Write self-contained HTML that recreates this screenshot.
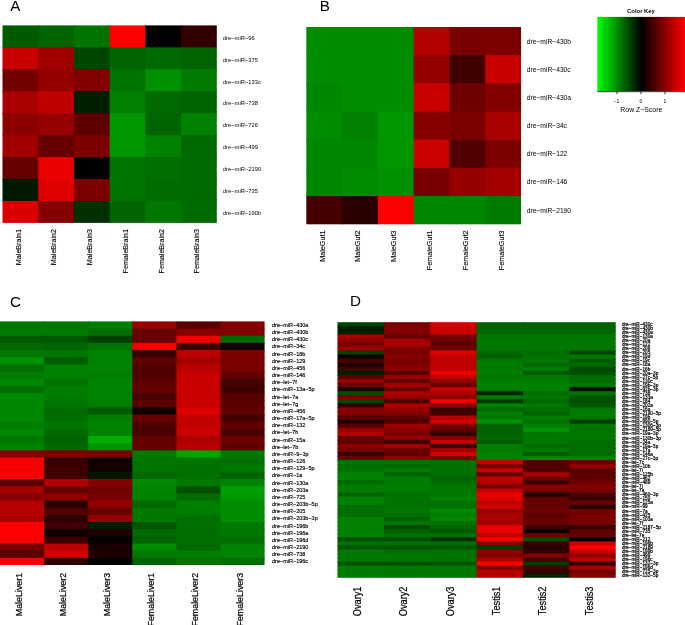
<!DOCTYPE html>
<html><head><meta charset="utf-8"><title>Heatmaps</title>
<style>
html,body{margin:0;padding:0;background:#fff;}
body{width:685px;height:625px;overflow:hidden;}
svg{display:block;}
svg text{font-family:"Liberation Sans",sans-serif;fill:#000;}
</style></head><body>
<svg width="685" height="625" viewBox="0 0 685 625">
<defs><linearGradient id="key" x1="0" y1="0" x2="1" y2="0"><stop offset="0" stop-color="#00ff00"/><stop offset="0.5" stop-color="#000000"/><stop offset="1" stop-color="#ff0000"/></linearGradient></defs>
<rect x="0" y="0" width="685" height="625" fill="#fff"/>
<rect x="2.50" y="25.40" width="36.72" height="22.94" fill="#005a00"/>
<rect x="38.22" y="25.40" width="36.72" height="22.94" fill="#006400"/>
<rect x="73.93" y="25.40" width="36.72" height="22.94" fill="#007300"/>
<rect x="109.65" y="25.40" width="36.72" height="22.94" fill="#ff0000"/>
<rect x="145.37" y="25.40" width="36.72" height="22.94" fill="#000000"/>
<rect x="181.08" y="25.40" width="35.72" height="22.94" fill="#320000"/>
<rect x="2.50" y="47.34" width="36.72" height="22.94" fill="#c80000"/>
<rect x="38.22" y="47.34" width="36.72" height="22.94" fill="#a00000"/>
<rect x="73.93" y="47.34" width="36.72" height="22.94" fill="#004600"/>
<rect x="109.65" y="47.34" width="36.72" height="22.94" fill="#006400"/>
<rect x="145.37" y="47.34" width="36.72" height="22.94" fill="#006900"/>
<rect x="181.08" y="47.34" width="35.72" height="22.94" fill="#006400"/>
<rect x="2.50" y="69.29" width="36.72" height="22.94" fill="#730000"/>
<rect x="38.22" y="69.29" width="36.72" height="22.94" fill="#960000"/>
<rect x="73.93" y="69.29" width="36.72" height="22.94" fill="#820000"/>
<rect x="109.65" y="69.29" width="36.72" height="22.94" fill="#007300"/>
<rect x="145.37" y="69.29" width="36.72" height="22.94" fill="#009100"/>
<rect x="181.08" y="69.29" width="35.72" height="22.94" fill="#007d00"/>
<rect x="2.50" y="91.23" width="36.72" height="22.94" fill="#aa0000"/>
<rect x="38.22" y="91.23" width="36.72" height="22.94" fill="#c00000"/>
<rect x="73.93" y="91.23" width="36.72" height="22.94" fill="#001e00"/>
<rect x="109.65" y="91.23" width="36.72" height="22.94" fill="#008200"/>
<rect x="145.37" y="91.23" width="36.72" height="22.94" fill="#006900"/>
<rect x="181.08" y="91.23" width="35.72" height="22.94" fill="#006400"/>
<rect x="2.50" y="113.18" width="36.72" height="22.94" fill="#8c0000"/>
<rect x="38.22" y="113.18" width="36.72" height="22.94" fill="#960000"/>
<rect x="73.93" y="113.18" width="36.72" height="22.94" fill="#5f0000"/>
<rect x="109.65" y="113.18" width="36.72" height="22.94" fill="#009600"/>
<rect x="145.37" y="113.18" width="36.72" height="22.94" fill="#006400"/>
<rect x="181.08" y="113.18" width="35.72" height="22.94" fill="#008200"/>
<rect x="2.50" y="135.12" width="36.72" height="22.94" fill="#a00000"/>
<rect x="38.22" y="135.12" width="36.72" height="22.94" fill="#640000"/>
<rect x="73.93" y="135.12" width="36.72" height="22.94" fill="#7d0000"/>
<rect x="109.65" y="135.12" width="36.72" height="22.94" fill="#009600"/>
<rect x="145.37" y="135.12" width="36.72" height="22.94" fill="#008200"/>
<rect x="181.08" y="135.12" width="35.72" height="22.94" fill="#006900"/>
<rect x="2.50" y="157.07" width="36.72" height="22.94" fill="#640000"/>
<rect x="38.22" y="157.07" width="36.72" height="22.94" fill="#eb0000"/>
<rect x="73.93" y="157.07" width="36.72" height="22.94" fill="#000000"/>
<rect x="109.65" y="157.07" width="36.72" height="22.94" fill="#007300"/>
<rect x="145.37" y="157.07" width="36.72" height="22.94" fill="#006e00"/>
<rect x="181.08" y="157.07" width="35.72" height="22.94" fill="#006900"/>
<rect x="2.50" y="179.01" width="36.72" height="22.94" fill="#001900"/>
<rect x="38.22" y="179.01" width="36.72" height="22.94" fill="#e10000"/>
<rect x="73.93" y="179.01" width="36.72" height="22.94" fill="#7d0000"/>
<rect x="109.65" y="179.01" width="36.72" height="22.94" fill="#007300"/>
<rect x="145.37" y="179.01" width="36.72" height="22.94" fill="#006c00"/>
<rect x="181.08" y="179.01" width="35.72" height="22.94" fill="#006900"/>
<rect x="2.50" y="200.96" width="36.72" height="21.94" fill="#da0000"/>
<rect x="38.22" y="200.96" width="36.72" height="21.94" fill="#840000"/>
<rect x="73.93" y="200.96" width="36.72" height="21.94" fill="#002f00"/>
<rect x="109.65" y="200.96" width="36.72" height="21.94" fill="#006400"/>
<rect x="145.37" y="200.96" width="36.72" height="21.94" fill="#007800"/>
<rect x="181.08" y="200.96" width="35.72" height="21.94" fill="#006c00"/>
<text transform="translate(222.80 39.66) scale(1.000 1)" font-size="5.80">dre−miR−96</text>
<text transform="translate(222.80 61.60) scale(1.000 1)" font-size="5.80">dre−miR−375</text>
<text transform="translate(222.80 83.55) scale(1.000 1)" font-size="5.80">dre−miR−133c</text>
<text transform="translate(222.80 105.49) scale(1.000 1)" font-size="5.80">dre−miR−738</text>
<text transform="translate(222.80 127.44) scale(1.000 1)" font-size="5.80">dre−miR−726</text>
<text transform="translate(222.80 149.38) scale(1.000 1)" font-size="5.80">dre−miR−499</text>
<text transform="translate(222.80 171.33) scale(1.000 1)" font-size="5.80">dre−miR−2190</text>
<text transform="translate(222.80 193.27) scale(1.000 1)" font-size="5.80">dre−miR−735</text>
<text transform="translate(222.80 215.22) scale(1.000 1)" font-size="5.80">dre−miR−190b</text>
<text transform="translate(20.76 229.00) rotate(-90) scale(1.000 1)" text-anchor="end" font-size="7.15" stroke="#000" stroke-width="0.12">MaleBrain1</text>
<text transform="translate(56.48 229.00) rotate(-90) scale(1.000 1)" text-anchor="end" font-size="7.15" stroke="#000" stroke-width="0.12">MaleBrain2</text>
<text transform="translate(92.19 229.00) rotate(-90) scale(1.000 1)" text-anchor="end" font-size="7.15" stroke="#000" stroke-width="0.12">MaleBrain3</text>
<text transform="translate(127.91 229.00) rotate(-90) scale(1.000 1)" text-anchor="end" font-size="7.15" stroke="#000" stroke-width="0.12">FemaleBrain1</text>
<text transform="translate(163.63 229.00) rotate(-90) scale(1.000 1)" text-anchor="end" font-size="7.15" stroke="#000" stroke-width="0.12">FemaleBrain2</text>
<text transform="translate(199.34 229.00) rotate(-90) scale(1.000 1)" text-anchor="end" font-size="7.15" stroke="#000" stroke-width="0.12">FemaleBrain3</text>
<rect x="306.30" y="27.00" width="36.78" height="29.19" fill="#008c00"/>
<rect x="342.08" y="27.00" width="36.78" height="29.19" fill="#008c00"/>
<rect x="377.87" y="27.00" width="36.78" height="29.19" fill="#008c00"/>
<rect x="413.65" y="27.00" width="36.78" height="29.19" fill="#b40000"/>
<rect x="449.43" y="27.00" width="36.78" height="29.19" fill="#780000"/>
<rect x="485.22" y="27.00" width="35.78" height="29.19" fill="#7d0000"/>
<rect x="306.30" y="55.19" width="36.78" height="29.19" fill="#008c00"/>
<rect x="342.08" y="55.19" width="36.78" height="29.19" fill="#008c00"/>
<rect x="377.87" y="55.19" width="36.78" height="29.19" fill="#008c00"/>
<rect x="413.65" y="55.19" width="36.78" height="29.19" fill="#960000"/>
<rect x="449.43" y="55.19" width="36.78" height="29.19" fill="#410000"/>
<rect x="485.22" y="55.19" width="35.78" height="29.19" fill="#c80000"/>
<rect x="306.30" y="83.37" width="36.78" height="29.19" fill="#008700"/>
<rect x="342.08" y="83.37" width="36.78" height="29.19" fill="#008e00"/>
<rect x="377.87" y="83.37" width="36.78" height="29.19" fill="#008e00"/>
<rect x="413.65" y="83.37" width="36.78" height="29.19" fill="#c80000"/>
<rect x="449.43" y="83.37" width="36.78" height="29.19" fill="#6e0000"/>
<rect x="485.22" y="83.37" width="35.78" height="29.19" fill="#820000"/>
<rect x="306.30" y="111.56" width="36.78" height="29.19" fill="#008c00"/>
<rect x="342.08" y="111.56" width="36.78" height="29.19" fill="#008200"/>
<rect x="377.87" y="111.56" width="36.78" height="29.19" fill="#009600"/>
<rect x="413.65" y="111.56" width="36.78" height="29.19" fill="#870000"/>
<rect x="449.43" y="111.56" width="36.78" height="29.19" fill="#7d0000"/>
<rect x="485.22" y="111.56" width="35.78" height="29.19" fill="#aa0000"/>
<rect x="306.30" y="139.74" width="36.78" height="29.19" fill="#008700"/>
<rect x="342.08" y="139.74" width="36.78" height="29.19" fill="#008700"/>
<rect x="377.87" y="139.74" width="36.78" height="29.19" fill="#009600"/>
<rect x="413.65" y="139.74" width="36.78" height="29.19" fill="#cd0000"/>
<rect x="449.43" y="139.74" width="36.78" height="29.19" fill="#500000"/>
<rect x="485.22" y="139.74" width="35.78" height="29.19" fill="#7d0000"/>
<rect x="306.30" y="167.93" width="36.78" height="29.19" fill="#008700"/>
<rect x="342.08" y="167.93" width="36.78" height="29.19" fill="#008c00"/>
<rect x="377.87" y="167.93" width="36.78" height="29.19" fill="#009100"/>
<rect x="413.65" y="167.93" width="36.78" height="29.19" fill="#780000"/>
<rect x="449.43" y="167.93" width="36.78" height="29.19" fill="#960000"/>
<rect x="485.22" y="167.93" width="35.78" height="29.19" fill="#a50000"/>
<rect x="306.30" y="196.11" width="36.78" height="28.19" fill="#460000"/>
<rect x="342.08" y="196.11" width="36.78" height="28.19" fill="#2d0000"/>
<rect x="377.87" y="196.11" width="36.78" height="28.19" fill="#ff0000"/>
<rect x="413.65" y="196.11" width="36.78" height="28.19" fill="#008700"/>
<rect x="449.43" y="196.11" width="36.78" height="28.19" fill="#008700"/>
<rect x="485.22" y="196.11" width="35.78" height="28.19" fill="#007d00"/>
<text transform="translate(526.80 43.50) scale(1.000 1)" font-size="6.70">dre−miR−430b</text>
<text transform="translate(526.80 71.69) scale(1.000 1)" font-size="6.70">dre−miR−430c</text>
<text transform="translate(526.80 99.88) scale(1.000 1)" font-size="6.70">dre−miR−430a</text>
<text transform="translate(526.80 128.06) scale(1.000 1)" font-size="6.70">dre−miR−34c</text>
<text transform="translate(526.80 156.25) scale(1.000 1)" font-size="6.70">dre−miR−122</text>
<text transform="translate(526.80 184.43) scale(1.000 1)" font-size="6.70">dre−miR−146</text>
<text transform="translate(526.80 212.62) scale(1.000 1)" font-size="6.70">dre−miR−2190</text>
<text transform="translate(324.69 230.60) rotate(-90) scale(1.000 1)" text-anchor="end" font-size="7.20" stroke="#000" stroke-width="0.12">MaleGut1</text>
<text transform="translate(360.48 230.60) rotate(-90) scale(1.000 1)" text-anchor="end" font-size="7.20" stroke="#000" stroke-width="0.12">MaleGut2</text>
<text transform="translate(396.26 230.60) rotate(-90) scale(1.000 1)" text-anchor="end" font-size="7.20" stroke="#000" stroke-width="0.12">MaleGut3</text>
<text transform="translate(432.04 230.60) rotate(-90) scale(1.000 1)" text-anchor="end" font-size="7.20" stroke="#000" stroke-width="0.12">FemaleGut1</text>
<text transform="translate(467.82 230.60) rotate(-90) scale(1.000 1)" text-anchor="end" font-size="7.20" stroke="#000" stroke-width="0.12">FemaleGut2</text>
<text transform="translate(503.61 230.60) rotate(-90) scale(1.000 1)" text-anchor="end" font-size="7.20" stroke="#000" stroke-width="0.12">FemaleGut3</text>
<rect x="0.00" y="321.40" width="45.10" height="8.16" fill="#007800"/>
<rect x="44.10" y="321.40" width="45.10" height="8.16" fill="#007800"/>
<rect x="88.20" y="321.40" width="45.10" height="8.16" fill="#007e00"/>
<rect x="132.30" y="321.40" width="45.10" height="8.16" fill="#960000"/>
<rect x="176.40" y="321.40" width="45.10" height="8.16" fill="#580000"/>
<rect x="220.50" y="321.40" width="44.10" height="8.16" fill="#820000"/>
<rect x="0.00" y="328.56" width="45.10" height="8.16" fill="#007d00"/>
<rect x="44.10" y="328.56" width="45.10" height="8.16" fill="#007d00"/>
<rect x="88.20" y="328.56" width="45.10" height="8.16" fill="#006e00"/>
<rect x="132.30" y="328.56" width="45.10" height="8.16" fill="#690000"/>
<rect x="176.40" y="328.56" width="45.10" height="8.16" fill="#870000"/>
<rect x="220.50" y="328.56" width="44.10" height="8.16" fill="#820000"/>
<rect x="0.00" y="335.73" width="45.10" height="8.16" fill="#005800"/>
<rect x="44.10" y="335.73" width="45.10" height="8.16" fill="#005800"/>
<rect x="88.20" y="335.73" width="45.10" height="8.16" fill="#004100"/>
<rect x="132.30" y="335.73" width="45.10" height="8.16" fill="#690000"/>
<rect x="176.40" y="335.73" width="45.10" height="8.16" fill="#f00000"/>
<rect x="220.50" y="335.73" width="44.10" height="8.16" fill="#006900"/>
<rect x="0.00" y="342.89" width="45.10" height="8.16" fill="#006900"/>
<rect x="44.10" y="342.89" width="45.10" height="8.16" fill="#006400"/>
<rect x="88.20" y="342.89" width="45.10" height="8.16" fill="#007400"/>
<rect x="132.30" y="342.89" width="45.10" height="8.16" fill="#f50000"/>
<rect x="176.40" y="342.89" width="45.10" height="8.16" fill="#410000"/>
<rect x="220.50" y="342.89" width="44.10" height="8.16" fill="#140000"/>
<rect x="0.00" y="350.06" width="45.10" height="8.16" fill="#007800"/>
<rect x="44.10" y="350.06" width="45.10" height="8.16" fill="#007800"/>
<rect x="88.20" y="350.06" width="45.10" height="8.16" fill="#008300"/>
<rect x="132.30" y="350.06" width="45.10" height="8.16" fill="#370000"/>
<rect x="176.40" y="350.06" width="45.10" height="8.16" fill="#bc0000"/>
<rect x="220.50" y="350.06" width="44.10" height="8.16" fill="#7d0000"/>
<rect x="0.00" y="357.22" width="45.10" height="8.16" fill="#009100"/>
<rect x="44.10" y="357.22" width="45.10" height="8.16" fill="#005c00"/>
<rect x="88.20" y="357.22" width="45.10" height="8.16" fill="#008300"/>
<rect x="132.30" y="357.22" width="45.10" height="8.16" fill="#5f0000"/>
<rect x="176.40" y="357.22" width="45.10" height="8.16" fill="#a50000"/>
<rect x="220.50" y="357.22" width="44.10" height="8.16" fill="#7d0000"/>
<rect x="0.00" y="364.39" width="45.10" height="8.16" fill="#006e00"/>
<rect x="44.10" y="364.39" width="45.10" height="8.16" fill="#008200"/>
<rect x="88.20" y="364.39" width="45.10" height="8.16" fill="#008300"/>
<rect x="132.30" y="364.39" width="45.10" height="8.16" fill="#500000"/>
<rect x="176.40" y="364.39" width="45.10" height="8.16" fill="#b90000"/>
<rect x="220.50" y="364.39" width="44.10" height="8.16" fill="#7d0000"/>
<rect x="0.00" y="371.55" width="45.10" height="8.16" fill="#007d00"/>
<rect x="44.10" y="371.55" width="45.10" height="8.16" fill="#008200"/>
<rect x="88.20" y="371.55" width="45.10" height="8.16" fill="#007e00"/>
<rect x="132.30" y="371.55" width="45.10" height="8.16" fill="#520000"/>
<rect x="176.40" y="371.55" width="45.10" height="8.16" fill="#c80000"/>
<rect x="220.50" y="371.55" width="44.10" height="8.16" fill="#620000"/>
<rect x="0.00" y="378.72" width="45.10" height="8.16" fill="#008700"/>
<rect x="44.10" y="378.72" width="45.10" height="8.16" fill="#007300"/>
<rect x="88.20" y="378.72" width="45.10" height="8.16" fill="#008300"/>
<rect x="132.30" y="378.72" width="45.10" height="8.16" fill="#5c0000"/>
<rect x="176.40" y="378.72" width="45.10" height="8.16" fill="#c80000"/>
<rect x="220.50" y="378.72" width="44.10" height="8.16" fill="#440000"/>
<rect x="0.00" y="385.88" width="45.10" height="8.16" fill="#006e00"/>
<rect x="44.10" y="385.88" width="45.10" height="8.16" fill="#007d00"/>
<rect x="88.20" y="385.88" width="45.10" height="8.16" fill="#008300"/>
<rect x="132.30" y="385.88" width="45.10" height="8.16" fill="#640000"/>
<rect x="176.40" y="385.88" width="45.10" height="8.16" fill="#cb0000"/>
<rect x="220.50" y="385.88" width="44.10" height="8.16" fill="#3a0000"/>
<rect x="0.00" y="393.05" width="45.10" height="8.16" fill="#008700"/>
<rect x="44.10" y="393.05" width="45.10" height="8.16" fill="#007d00"/>
<rect x="88.20" y="393.05" width="45.10" height="8.16" fill="#008300"/>
<rect x="132.30" y="393.05" width="45.10" height="8.16" fill="#4b0000"/>
<rect x="176.40" y="393.05" width="45.10" height="8.16" fill="#c80000"/>
<rect x="220.50" y="393.05" width="44.10" height="8.16" fill="#580000"/>
<rect x="0.00" y="400.21" width="45.10" height="8.16" fill="#008700"/>
<rect x="44.10" y="400.21" width="45.10" height="8.16" fill="#007400"/>
<rect x="88.20" y="400.21" width="45.10" height="8.16" fill="#007e00"/>
<rect x="132.30" y="400.21" width="45.10" height="8.16" fill="#5a0000"/>
<rect x="176.40" y="400.21" width="45.10" height="8.16" fill="#c80000"/>
<rect x="220.50" y="400.21" width="44.10" height="8.16" fill="#580000"/>
<rect x="0.00" y="407.38" width="45.10" height="8.16" fill="#008700"/>
<rect x="44.10" y="407.38" width="45.10" height="8.16" fill="#006a00"/>
<rect x="88.20" y="407.38" width="45.10" height="8.16" fill="#005a00"/>
<rect x="132.30" y="407.38" width="45.10" height="8.16" fill="#140000"/>
<rect x="176.40" y="407.38" width="45.10" height="8.16" fill="#dc0000"/>
<rect x="220.50" y="407.38" width="44.10" height="8.16" fill="#600000"/>
<rect x="0.00" y="414.54" width="45.10" height="8.16" fill="#008700"/>
<rect x="44.10" y="414.54" width="45.10" height="8.16" fill="#006e00"/>
<rect x="88.20" y="414.54" width="45.10" height="8.16" fill="#007e00"/>
<rect x="132.30" y="414.54" width="45.10" height="8.16" fill="#690000"/>
<rect x="176.40" y="414.54" width="45.10" height="8.16" fill="#c40000"/>
<rect x="220.50" y="414.54" width="44.10" height="8.16" fill="#440000"/>
<rect x="0.00" y="421.71" width="45.10" height="8.16" fill="#007d00"/>
<rect x="44.10" y="421.71" width="45.10" height="8.16" fill="#007800"/>
<rect x="88.20" y="421.71" width="45.10" height="8.16" fill="#008300"/>
<rect x="132.30" y="421.71" width="45.10" height="8.16" fill="#4e0000"/>
<rect x="176.40" y="421.71" width="45.10" height="8.16" fill="#c30000"/>
<rect x="220.50" y="421.71" width="44.10" height="8.16" fill="#640000"/>
<rect x="0.00" y="428.87" width="45.10" height="8.16" fill="#008700"/>
<rect x="44.10" y="428.87" width="45.10" height="8.16" fill="#006900"/>
<rect x="88.20" y="428.87" width="45.10" height="8.16" fill="#008300"/>
<rect x="132.30" y="428.87" width="45.10" height="8.16" fill="#4c0000"/>
<rect x="176.40" y="428.87" width="45.10" height="8.16" fill="#cb0000"/>
<rect x="220.50" y="428.87" width="44.10" height="8.16" fill="#480000"/>
<rect x="0.00" y="436.04" width="45.10" height="8.16" fill="#007800"/>
<rect x="44.10" y="436.04" width="45.10" height="8.16" fill="#006400"/>
<rect x="88.20" y="436.04" width="45.10" height="8.16" fill="#00ad00"/>
<rect x="132.30" y="436.04" width="45.10" height="8.16" fill="#640000"/>
<rect x="176.40" y="436.04" width="45.10" height="8.16" fill="#ac0000"/>
<rect x="220.50" y="436.04" width="44.10" height="8.16" fill="#6e0000"/>
<rect x="0.00" y="443.20" width="45.10" height="8.16" fill="#008200"/>
<rect x="44.10" y="443.20" width="45.10" height="8.16" fill="#006900"/>
<rect x="88.20" y="443.20" width="45.10" height="8.16" fill="#009300"/>
<rect x="132.30" y="443.20" width="45.10" height="8.16" fill="#640000"/>
<rect x="176.40" y="443.20" width="45.10" height="8.16" fill="#ba0000"/>
<rect x="220.50" y="443.20" width="44.10" height="8.16" fill="#5c0000"/>
<rect x="0.00" y="450.36" width="45.10" height="8.16" fill="#820000"/>
<rect x="44.10" y="450.36" width="45.10" height="8.16" fill="#7d0000"/>
<rect x="88.20" y="450.36" width="45.10" height="8.16" fill="#7a0000"/>
<rect x="132.30" y="450.36" width="45.10" height="8.16" fill="#007900"/>
<rect x="176.40" y="450.36" width="45.10" height="8.16" fill="#00a300"/>
<rect x="220.50" y="450.36" width="44.10" height="8.16" fill="#007900"/>
<rect x="0.00" y="457.53" width="45.10" height="8.16" fill="#fa0000"/>
<rect x="44.10" y="457.53" width="45.10" height="8.16" fill="#370000"/>
<rect x="88.20" y="457.53" width="45.10" height="8.16" fill="#100000"/>
<rect x="132.30" y="457.53" width="45.10" height="8.16" fill="#007400"/>
<rect x="176.40" y="457.53" width="45.10" height="8.16" fill="#007400"/>
<rect x="220.50" y="457.53" width="44.10" height="8.16" fill="#006e00"/>
<rect x="0.00" y="464.69" width="45.10" height="8.16" fill="#f50000"/>
<rect x="44.10" y="464.69" width="45.10" height="8.16" fill="#3c0000"/>
<rect x="88.20" y="464.69" width="45.10" height="8.16" fill="#140000"/>
<rect x="132.30" y="464.69" width="45.10" height="8.16" fill="#007400"/>
<rect x="176.40" y="464.69" width="45.10" height="8.16" fill="#007100"/>
<rect x="220.50" y="464.69" width="44.10" height="8.16" fill="#007900"/>
<rect x="0.00" y="471.86" width="45.10" height="8.16" fill="#fa0000"/>
<rect x="44.10" y="471.86" width="45.10" height="8.16" fill="#3c0000"/>
<rect x="88.20" y="471.86" width="45.10" height="8.16" fill="#001400"/>
<rect x="132.30" y="471.86" width="45.10" height="8.16" fill="#006900"/>
<rect x="176.40" y="471.86" width="45.10" height="8.16" fill="#007100"/>
<rect x="220.50" y="471.86" width="44.10" height="8.16" fill="#006400"/>
<rect x="0.00" y="479.02" width="45.10" height="8.16" fill="#5a0000"/>
<rect x="44.10" y="479.02" width="45.10" height="8.16" fill="#b20000"/>
<rect x="88.20" y="479.02" width="45.10" height="8.16" fill="#870000"/>
<rect x="132.30" y="479.02" width="45.10" height="8.16" fill="#008800"/>
<rect x="176.40" y="479.02" width="45.10" height="8.16" fill="#007900"/>
<rect x="220.50" y="479.02" width="44.10" height="8.16" fill="#008300"/>
<rect x="0.00" y="486.19" width="45.10" height="8.16" fill="#a50000"/>
<rect x="44.10" y="486.19" width="45.10" height="8.16" fill="#640000"/>
<rect x="88.20" y="486.19" width="45.10" height="8.16" fill="#730000"/>
<rect x="132.30" y="486.19" width="45.10" height="8.16" fill="#008300"/>
<rect x="176.40" y="486.19" width="45.10" height="8.16" fill="#005000"/>
<rect x="220.50" y="486.19" width="44.10" height="8.16" fill="#009e00"/>
<rect x="0.00" y="493.35" width="45.10" height="8.16" fill="#870000"/>
<rect x="44.10" y="493.35" width="45.10" height="8.16" fill="#910000"/>
<rect x="88.20" y="493.35" width="45.10" height="8.16" fill="#780000"/>
<rect x="132.30" y="493.35" width="45.10" height="8.16" fill="#008300"/>
<rect x="176.40" y="493.35" width="45.10" height="8.16" fill="#006900"/>
<rect x="220.50" y="493.35" width="44.10" height="8.16" fill="#009800"/>
<rect x="0.00" y="500.52" width="45.10" height="8.16" fill="#b90000"/>
<rect x="44.10" y="500.52" width="45.10" height="8.16" fill="#280000"/>
<rect x="88.20" y="500.52" width="45.10" height="8.16" fill="#940000"/>
<rect x="132.30" y="500.52" width="45.10" height="8.16" fill="#006900"/>
<rect x="176.40" y="500.52" width="45.10" height="8.16" fill="#007e00"/>
<rect x="220.50" y="500.52" width="44.10" height="8.16" fill="#008e00"/>
<rect x="0.00" y="507.68" width="45.10" height="8.16" fill="#b40000"/>
<rect x="44.10" y="507.68" width="45.10" height="8.16" fill="#550000"/>
<rect x="88.20" y="507.68" width="45.10" height="8.16" fill="#690000"/>
<rect x="132.30" y="507.68" width="45.10" height="8.16" fill="#007900"/>
<rect x="176.40" y="507.68" width="45.10" height="8.16" fill="#007e00"/>
<rect x="220.50" y="507.68" width="44.10" height="8.16" fill="#008e00"/>
<rect x="0.00" y="514.85" width="45.10" height="8.16" fill="#ac0000"/>
<rect x="44.10" y="514.85" width="45.10" height="8.16" fill="#2f0000"/>
<rect x="88.20" y="514.85" width="45.10" height="8.16" fill="#960000"/>
<rect x="132.30" y="514.85" width="45.10" height="8.16" fill="#007900"/>
<rect x="176.40" y="514.85" width="45.10" height="8.16" fill="#007000"/>
<rect x="220.50" y="514.85" width="44.10" height="8.16" fill="#008e00"/>
<rect x="0.00" y="522.01" width="45.10" height="8.16" fill="#ff0000"/>
<rect x="44.10" y="522.01" width="45.10" height="8.16" fill="#3e0000"/>
<rect x="88.20" y="522.01" width="45.10" height="8.16" fill="#001e00"/>
<rect x="132.30" y="522.01" width="45.10" height="8.16" fill="#005500"/>
<rect x="176.40" y="522.01" width="45.10" height="8.16" fill="#006e00"/>
<rect x="220.50" y="522.01" width="44.10" height="8.16" fill="#007900"/>
<rect x="0.00" y="529.18" width="45.10" height="8.16" fill="#ff0000"/>
<rect x="44.10" y="529.18" width="45.10" height="8.16" fill="#100000"/>
<rect x="88.20" y="529.18" width="45.10" height="8.16" fill="#1e0000"/>
<rect x="132.30" y="529.18" width="45.10" height="8.16" fill="#006900"/>
<rect x="176.40" y="529.18" width="45.10" height="8.16" fill="#006e00"/>
<rect x="220.50" y="529.18" width="44.10" height="8.16" fill="#007900"/>
<rect x="0.00" y="536.34" width="45.10" height="8.16" fill="#fa0000"/>
<rect x="44.10" y="536.34" width="45.10" height="8.16" fill="#390000"/>
<rect x="88.20" y="536.34" width="45.10" height="8.16" fill="#050000"/>
<rect x="132.30" y="536.34" width="45.10" height="8.16" fill="#006400"/>
<rect x="176.40" y="536.34" width="45.10" height="8.16" fill="#006e00"/>
<rect x="220.50" y="536.34" width="44.10" height="8.16" fill="#006e00"/>
<rect x="0.00" y="543.51" width="45.10" height="8.16" fill="#780000"/>
<rect x="44.10" y="543.51" width="45.10" height="8.16" fill="#be0000"/>
<rect x="88.20" y="543.51" width="45.10" height="8.16" fill="#190000"/>
<rect x="132.30" y="543.51" width="45.10" height="8.16" fill="#008e00"/>
<rect x="176.40" y="543.51" width="45.10" height="8.16" fill="#006900"/>
<rect x="220.50" y="543.51" width="44.10" height="8.16" fill="#008300"/>
<rect x="0.00" y="550.67" width="45.10" height="8.16" fill="#5a0000"/>
<rect x="44.10" y="550.67" width="45.10" height="8.16" fill="#d20000"/>
<rect x="88.20" y="550.67" width="45.10" height="8.16" fill="#1e0000"/>
<rect x="132.30" y="550.67" width="45.10" height="8.16" fill="#007900"/>
<rect x="176.40" y="550.67" width="45.10" height="8.16" fill="#007e00"/>
<rect x="220.50" y="550.67" width="44.10" height="8.16" fill="#008300"/>
<rect x="0.00" y="557.84" width="45.10" height="7.16" fill="#f50000"/>
<rect x="44.10" y="557.84" width="45.10" height="7.16" fill="#2a0000"/>
<rect x="88.20" y="557.84" width="45.10" height="7.16" fill="#000000"/>
<rect x="132.30" y="557.84" width="45.10" height="7.16" fill="#006400"/>
<rect x="176.40" y="557.84" width="45.10" height="7.16" fill="#007400"/>
<rect x="220.50" y="557.84" width="44.10" height="7.16" fill="#006e00"/>
<text transform="translate(272.00 326.96) scale(1.000 1)" font-size="5.50" stroke="#000" stroke-width="0.15">dre−miR−430a</text>
<text transform="translate(272.00 334.13) scale(1.000 1)" font-size="5.50" stroke="#000" stroke-width="0.15">dre−miR−430b</text>
<text transform="translate(272.00 341.29) scale(1.000 1)" font-size="5.50" stroke="#000" stroke-width="0.15">dre−miR−430c</text>
<text transform="translate(272.00 348.46) scale(1.000 1)" font-size="5.50" stroke="#000" stroke-width="0.15">dre−miR−34c</text>
<text transform="translate(272.00 355.62) scale(1.000 1)" font-size="5.50" stroke="#000" stroke-width="0.15">dre−miR−18b</text>
<text transform="translate(272.00 362.79) scale(1.000 1)" font-size="5.50" stroke="#000" stroke-width="0.15">dre−miR−129</text>
<text transform="translate(272.00 369.95) scale(1.000 1)" font-size="5.50" stroke="#000" stroke-width="0.15">dre−miR−456</text>
<text transform="translate(272.00 377.12) scale(1.000 1)" font-size="5.50" stroke="#000" stroke-width="0.15">dre−miR−146</text>
<text transform="translate(272.00 384.28) scale(1.000 1)" font-size="5.50" stroke="#000" stroke-width="0.15">dre−let−7f</text>
<text transform="translate(272.00 391.44) scale(1.000 1)" font-size="5.50" stroke="#000" stroke-width="0.15">dre−miR−13a−5p</text>
<text transform="translate(272.00 398.61) scale(1.000 1)" font-size="5.50" stroke="#000" stroke-width="0.15">dre−let−7a</text>
<text transform="translate(272.00 405.77) scale(1.000 1)" font-size="5.50" stroke="#000" stroke-width="0.15">dre−let−7g</text>
<text transform="translate(272.00 412.94) scale(1.000 1)" font-size="5.50" stroke="#000" stroke-width="0.15">dre−miR−456</text>
<text transform="translate(272.00 420.10) scale(1.000 1)" font-size="5.50" stroke="#000" stroke-width="0.15">dre−miR−17a−5p</text>
<text transform="translate(272.00 427.27) scale(1.000 1)" font-size="5.50" stroke="#000" stroke-width="0.15">dre−miR−132</text>
<text transform="translate(272.00 434.43) scale(1.000 1)" font-size="5.50" stroke="#000" stroke-width="0.15">dre−let−7h</text>
<text transform="translate(272.00 441.60) scale(1.000 1)" font-size="5.50" stroke="#000" stroke-width="0.15">dre−miR−15a</text>
<text transform="translate(272.00 448.76) scale(1.000 1)" font-size="5.50" stroke="#000" stroke-width="0.15">dre−let−7b</text>
<text transform="translate(272.00 455.93) scale(1.000 1)" font-size="5.50" stroke="#000" stroke-width="0.15">dre−miR−9−3p</text>
<text transform="translate(272.00 463.09) scale(1.000 1)" font-size="5.50" stroke="#000" stroke-width="0.15">dre−miR−126</text>
<text transform="translate(272.00 470.26) scale(1.000 1)" font-size="5.50" stroke="#000" stroke-width="0.15">dre−miR−129−5p</text>
<text transform="translate(272.00 477.42) scale(1.000 1)" font-size="5.50" stroke="#000" stroke-width="0.15">dre−miR−1a</text>
<text transform="translate(272.00 484.59) scale(1.000 1)" font-size="5.50" stroke="#000" stroke-width="0.15">dre−miR−130a</text>
<text transform="translate(272.00 491.75) scale(1.000 1)" font-size="5.50" stroke="#000" stroke-width="0.15">dre−miR−203a</text>
<text transform="translate(272.00 498.92) scale(1.000 1)" font-size="5.50" stroke="#000" stroke-width="0.15">dre−miR−725</text>
<text transform="translate(272.00 506.08) scale(1.000 1)" font-size="5.50" stroke="#000" stroke-width="0.15">dre−miR−203b−5p</text>
<text transform="translate(272.00 513.24) scale(1.000 1)" font-size="5.50" stroke="#000" stroke-width="0.15">dre−miR−205</text>
<text transform="translate(272.00 520.41) scale(1.000 1)" font-size="5.50" stroke="#000" stroke-width="0.15">dre−miR−203b−3p</text>
<text transform="translate(272.00 527.57) scale(1.000 1)" font-size="5.50" stroke="#000" stroke-width="0.15">dre−miR−196b</text>
<text transform="translate(272.00 534.74) scale(1.000 1)" font-size="5.50" stroke="#000" stroke-width="0.15">dre−miR−196a</text>
<text transform="translate(272.00 541.90) scale(1.000 1)" font-size="5.50" stroke="#000" stroke-width="0.15">dre−miR−196d</text>
<text transform="translate(272.00 549.07) scale(1.000 1)" font-size="5.50" stroke="#000" stroke-width="0.15">dre−miR−2190</text>
<text transform="translate(272.00 556.23) scale(1.000 1)" font-size="5.50" stroke="#000" stroke-width="0.15">dre−miR−738</text>
<text transform="translate(272.00 563.40) scale(1.000 1)" font-size="5.50" stroke="#000" stroke-width="0.15">dre−miR−196c</text>
<text transform="translate(22.05 572.90) rotate(-90) scale(1.000 1)" text-anchor="end" font-size="8.85" stroke="#000" stroke-width="0.20">MaleLiver1</text>
<text transform="translate(66.15 572.90) rotate(-90) scale(1.000 1)" text-anchor="end" font-size="8.85" stroke="#000" stroke-width="0.20">MaleLiver2</text>
<text transform="translate(110.25 572.90) rotate(-90) scale(1.000 1)" text-anchor="end" font-size="8.85" stroke="#000" stroke-width="0.20">MaleLiver3</text>
<text transform="translate(154.35 572.90) rotate(-90) scale(1.000 1)" text-anchor="end" font-size="8.85" stroke="#000" stroke-width="0.20">FemaleLiver1</text>
<text transform="translate(198.45 572.90) rotate(-90) scale(1.000 1)" text-anchor="end" font-size="8.85" stroke="#000" stroke-width="0.20">FemaleLiver2</text>
<text transform="translate(242.55 572.90) rotate(-90) scale(1.000 1)" text-anchor="end" font-size="8.85" stroke="#000" stroke-width="0.20">FemaleLiver3</text>
<rect x="337.50" y="322.20" width="47.37" height="5.06" fill="#004600"/>
<rect x="383.87" y="322.20" width="47.37" height="5.06" fill="#780000"/>
<rect x="430.23" y="322.20" width="47.37" height="5.06" fill="#d20000"/>
<rect x="476.60" y="322.20" width="47.37" height="5.06" fill="#006300"/>
<rect x="522.97" y="322.20" width="47.37" height="5.06" fill="#006300"/>
<rect x="569.33" y="322.20" width="46.37" height="5.06" fill="#006300"/>
<rect x="337.50" y="326.26" width="47.37" height="5.06" fill="#001e00"/>
<rect x="383.87" y="326.26" width="47.37" height="5.06" fill="#820000"/>
<rect x="430.23" y="326.26" width="47.37" height="5.06" fill="#cd0000"/>
<rect x="476.60" y="326.26" width="47.37" height="5.06" fill="#006300"/>
<rect x="522.97" y="326.26" width="47.37" height="5.06" fill="#006300"/>
<rect x="569.33" y="326.26" width="46.37" height="5.06" fill="#006300"/>
<rect x="337.50" y="330.31" width="47.37" height="5.06" fill="#001e00"/>
<rect x="383.87" y="330.31" width="47.37" height="5.06" fill="#820000"/>
<rect x="430.23" y="330.31" width="47.37" height="5.06" fill="#c80000"/>
<rect x="476.60" y="330.31" width="47.37" height="5.06" fill="#006800"/>
<rect x="522.97" y="330.31" width="47.37" height="5.06" fill="#006800"/>
<rect x="569.33" y="330.31" width="46.37" height="5.06" fill="#006800"/>
<rect x="337.50" y="334.37" width="47.37" height="5.06" fill="#aa0000"/>
<rect x="383.87" y="334.37" width="47.37" height="5.06" fill="#640000"/>
<rect x="430.23" y="334.37" width="47.37" height="5.06" fill="#780000"/>
<rect x="476.60" y="334.37" width="47.37" height="5.06" fill="#007800"/>
<rect x="522.97" y="334.37" width="47.37" height="5.06" fill="#007800"/>
<rect x="569.33" y="334.37" width="46.37" height="5.06" fill="#007800"/>
<rect x="337.50" y="338.43" width="47.37" height="5.06" fill="#8c0000"/>
<rect x="383.87" y="338.43" width="47.37" height="5.06" fill="#a00000"/>
<rect x="430.23" y="338.43" width="47.37" height="5.06" fill="#640000"/>
<rect x="476.60" y="338.43" width="47.37" height="5.06" fill="#007800"/>
<rect x="522.97" y="338.43" width="47.37" height="5.06" fill="#007800"/>
<rect x="569.33" y="338.43" width="46.37" height="5.06" fill="#007800"/>
<rect x="337.50" y="342.49" width="47.37" height="5.06" fill="#780000"/>
<rect x="383.87" y="342.49" width="47.37" height="5.06" fill="#af0000"/>
<rect x="430.23" y="342.49" width="47.37" height="5.06" fill="#5f0000"/>
<rect x="476.60" y="342.49" width="47.37" height="5.06" fill="#007800"/>
<rect x="522.97" y="342.49" width="47.37" height="5.06" fill="#007800"/>
<rect x="569.33" y="342.49" width="46.37" height="5.06" fill="#007800"/>
<rect x="337.50" y="346.54" width="47.37" height="5.06" fill="#a00000"/>
<rect x="383.87" y="346.54" width="47.37" height="5.06" fill="#820000"/>
<rect x="430.23" y="346.54" width="47.37" height="5.06" fill="#6e0000"/>
<rect x="476.60" y="346.54" width="47.37" height="5.06" fill="#007800"/>
<rect x="522.97" y="346.54" width="47.37" height="5.06" fill="#007800"/>
<rect x="569.33" y="346.54" width="46.37" height="5.06" fill="#007800"/>
<rect x="337.50" y="350.60" width="47.37" height="5.06" fill="#003e00"/>
<rect x="383.87" y="350.60" width="47.37" height="5.06" fill="#780000"/>
<rect x="430.23" y="350.60" width="47.37" height="5.06" fill="#e10000"/>
<rect x="476.60" y="350.60" width="47.37" height="5.06" fill="#006800"/>
<rect x="522.97" y="350.60" width="47.37" height="5.06" fill="#006d00"/>
<rect x="569.33" y="350.60" width="46.37" height="5.06" fill="#004600"/>
<rect x="337.50" y="354.66" width="47.37" height="5.06" fill="#0f0000"/>
<rect x="383.87" y="354.66" width="47.37" height="5.06" fill="#870000"/>
<rect x="430.23" y="354.66" width="47.37" height="5.06" fill="#c30000"/>
<rect x="476.60" y="354.66" width="47.37" height="5.06" fill="#006300"/>
<rect x="522.97" y="354.66" width="47.37" height="5.06" fill="#007200"/>
<rect x="569.33" y="354.66" width="46.37" height="5.06" fill="#007800"/>
<rect x="337.50" y="358.71" width="47.37" height="5.06" fill="#460000"/>
<rect x="383.87" y="358.71" width="47.37" height="5.06" fill="#760000"/>
<rect x="430.23" y="358.71" width="47.37" height="5.06" fill="#be0000"/>
<rect x="476.60" y="358.71" width="47.37" height="5.06" fill="#007800"/>
<rect x="522.97" y="358.71" width="47.37" height="5.06" fill="#007800"/>
<rect x="569.33" y="358.71" width="46.37" height="5.06" fill="#005a00"/>
<rect x="337.50" y="362.77" width="47.37" height="5.06" fill="#1e0000"/>
<rect x="383.87" y="362.77" width="47.37" height="5.06" fill="#820000"/>
<rect x="430.23" y="362.77" width="47.37" height="5.06" fill="#be0000"/>
<rect x="476.60" y="362.77" width="47.37" height="5.06" fill="#007d00"/>
<rect x="522.97" y="362.77" width="47.37" height="5.06" fill="#006800"/>
<rect x="569.33" y="362.77" width="46.37" height="5.06" fill="#006800"/>
<rect x="337.50" y="366.83" width="47.37" height="5.06" fill="#460000"/>
<rect x="383.87" y="366.83" width="47.37" height="5.06" fill="#8a0000"/>
<rect x="430.23" y="366.83" width="47.37" height="5.06" fill="#c30000"/>
<rect x="476.60" y="366.83" width="47.37" height="5.06" fill="#007800"/>
<rect x="522.97" y="366.83" width="47.37" height="5.06" fill="#007d00"/>
<rect x="569.33" y="366.83" width="46.37" height="5.06" fill="#004b00"/>
<rect x="337.50" y="370.89" width="47.37" height="5.06" fill="#001e00"/>
<rect x="383.87" y="370.89" width="47.37" height="5.06" fill="#5a0000"/>
<rect x="430.23" y="370.89" width="47.37" height="5.06" fill="#f00000"/>
<rect x="476.60" y="370.89" width="47.37" height="5.06" fill="#007d00"/>
<rect x="522.97" y="370.89" width="47.37" height="5.06" fill="#005a00"/>
<rect x="569.33" y="370.89" width="46.37" height="5.06" fill="#005000"/>
<rect x="337.50" y="374.94" width="47.37" height="5.06" fill="#5a0000"/>
<rect x="383.87" y="374.94" width="47.37" height="5.06" fill="#960000"/>
<rect x="430.23" y="374.94" width="47.37" height="5.06" fill="#be0000"/>
<rect x="476.60" y="374.94" width="47.37" height="5.06" fill="#007800"/>
<rect x="522.97" y="374.94" width="47.37" height="5.06" fill="#007800"/>
<rect x="569.33" y="374.94" width="46.37" height="5.06" fill="#006d00"/>
<rect x="337.50" y="379.00" width="47.37" height="5.06" fill="#960000"/>
<rect x="383.87" y="379.00" width="47.37" height="5.06" fill="#640000"/>
<rect x="430.23" y="379.00" width="47.37" height="5.06" fill="#960000"/>
<rect x="476.60" y="379.00" width="47.37" height="5.06" fill="#007d00"/>
<rect x="522.97" y="379.00" width="47.37" height="5.06" fill="#007d00"/>
<rect x="569.33" y="379.00" width="46.37" height="5.06" fill="#006d00"/>
<rect x="337.50" y="383.06" width="47.37" height="5.06" fill="#6e0000"/>
<rect x="383.87" y="383.06" width="47.37" height="5.06" fill="#a50000"/>
<rect x="430.23" y="383.06" width="47.37" height="5.06" fill="#640000"/>
<rect x="476.60" y="383.06" width="47.37" height="5.06" fill="#008200"/>
<rect x="522.97" y="383.06" width="47.37" height="5.06" fill="#008200"/>
<rect x="569.33" y="383.06" width="46.37" height="5.06" fill="#007800"/>
<rect x="337.50" y="387.11" width="47.37" height="5.06" fill="#1e0000"/>
<rect x="383.87" y="387.11" width="47.37" height="5.06" fill="#640000"/>
<rect x="430.23" y="387.11" width="47.37" height="5.06" fill="#c80000"/>
<rect x="476.60" y="387.11" width="47.37" height="5.06" fill="#007d00"/>
<rect x="522.97" y="387.11" width="47.37" height="5.06" fill="#008200"/>
<rect x="569.33" y="387.11" width="46.37" height="5.06" fill="#000f00"/>
<rect x="337.50" y="391.17" width="47.37" height="5.06" fill="#004b00"/>
<rect x="383.87" y="391.17" width="47.37" height="5.06" fill="#aa0000"/>
<rect x="430.23" y="391.17" width="47.37" height="5.06" fill="#aa0000"/>
<rect x="476.60" y="391.17" width="47.37" height="5.06" fill="#002800"/>
<rect x="522.97" y="391.17" width="47.37" height="5.06" fill="#006d00"/>
<rect x="569.33" y="391.17" width="46.37" height="5.06" fill="#007200"/>
<rect x="337.50" y="395.23" width="47.37" height="5.06" fill="#7d0000"/>
<rect x="383.87" y="395.23" width="47.37" height="5.06" fill="#960000"/>
<rect x="430.23" y="395.23" width="47.37" height="5.06" fill="#8c0000"/>
<rect x="476.60" y="395.23" width="47.37" height="5.06" fill="#007800"/>
<rect x="522.97" y="395.23" width="47.37" height="5.06" fill="#007800"/>
<rect x="569.33" y="395.23" width="46.37" height="5.06" fill="#005500"/>
<rect x="337.50" y="399.29" width="47.37" height="5.06" fill="#004600"/>
<rect x="383.87" y="399.29" width="47.37" height="5.06" fill="#4b0000"/>
<rect x="430.23" y="399.29" width="47.37" height="5.06" fill="#f50000"/>
<rect x="476.60" y="399.29" width="47.37" height="5.06" fill="#003700"/>
<rect x="522.97" y="399.29" width="47.37" height="5.06" fill="#006800"/>
<rect x="569.33" y="399.29" width="46.37" height="5.06" fill="#005000"/>
<rect x="337.50" y="403.34" width="47.37" height="5.06" fill="#320000"/>
<rect x="383.87" y="403.34" width="47.37" height="5.06" fill="#af0000"/>
<rect x="430.23" y="403.34" width="47.37" height="5.06" fill="#8c0000"/>
<rect x="476.60" y="403.34" width="47.37" height="5.06" fill="#008200"/>
<rect x="522.97" y="403.34" width="47.37" height="5.06" fill="#007800"/>
<rect x="569.33" y="403.34" width="46.37" height="5.06" fill="#005500"/>
<rect x="337.50" y="407.40" width="47.37" height="5.06" fill="#870000"/>
<rect x="383.87" y="407.40" width="47.37" height="5.06" fill="#960000"/>
<rect x="430.23" y="407.40" width="47.37" height="5.06" fill="#3c0000"/>
<rect x="476.60" y="407.40" width="47.37" height="5.06" fill="#006800"/>
<rect x="522.97" y="407.40" width="47.37" height="5.06" fill="#006d00"/>
<rect x="569.33" y="407.40" width="46.37" height="5.06" fill="#007800"/>
<rect x="337.50" y="411.46" width="47.37" height="5.06" fill="#820000"/>
<rect x="383.87" y="411.46" width="47.37" height="5.06" fill="#820000"/>
<rect x="430.23" y="411.46" width="47.37" height="5.06" fill="#410000"/>
<rect x="476.60" y="411.46" width="47.37" height="5.06" fill="#007d00"/>
<rect x="522.97" y="411.46" width="47.37" height="5.06" fill="#006300"/>
<rect x="569.33" y="411.46" width="46.37" height="5.06" fill="#007d00"/>
<rect x="337.50" y="415.51" width="47.37" height="5.06" fill="#550000"/>
<rect x="383.87" y="415.51" width="47.37" height="5.06" fill="#5f0000"/>
<rect x="430.23" y="415.51" width="47.37" height="5.06" fill="#b40000"/>
<rect x="476.60" y="415.51" width="47.37" height="5.06" fill="#007800"/>
<rect x="522.97" y="415.51" width="47.37" height="5.06" fill="#007d00"/>
<rect x="569.33" y="415.51" width="46.37" height="5.06" fill="#007800"/>
<rect x="337.50" y="419.57" width="47.37" height="5.06" fill="#230000"/>
<rect x="383.87" y="419.57" width="47.37" height="5.06" fill="#500000"/>
<rect x="430.23" y="419.57" width="47.37" height="5.06" fill="#d70000"/>
<rect x="476.60" y="419.57" width="47.37" height="5.06" fill="#009200"/>
<rect x="522.97" y="419.57" width="47.37" height="5.06" fill="#007200"/>
<rect x="569.33" y="419.57" width="46.37" height="5.06" fill="#003c00"/>
<rect x="337.50" y="423.63" width="47.37" height="5.06" fill="#550000"/>
<rect x="383.87" y="423.63" width="47.37" height="5.06" fill="#a00000"/>
<rect x="430.23" y="423.63" width="47.37" height="5.06" fill="#7d0000"/>
<rect x="476.60" y="423.63" width="47.37" height="5.06" fill="#006300"/>
<rect x="522.97" y="423.63" width="47.37" height="5.06" fill="#007d00"/>
<rect x="569.33" y="423.63" width="46.37" height="5.06" fill="#007800"/>
<rect x="337.50" y="427.69" width="47.37" height="5.06" fill="#960000"/>
<rect x="383.87" y="427.69" width="47.37" height="5.06" fill="#8c0000"/>
<rect x="430.23" y="427.69" width="47.37" height="5.06" fill="#5f0000"/>
<rect x="476.60" y="427.69" width="47.37" height="5.06" fill="#006300"/>
<rect x="522.97" y="427.69" width="47.37" height="5.06" fill="#009200"/>
<rect x="569.33" y="427.69" width="46.37" height="5.06" fill="#007200"/>
<rect x="337.50" y="431.74" width="47.37" height="5.06" fill="#b40000"/>
<rect x="383.87" y="431.74" width="47.37" height="5.06" fill="#780000"/>
<rect x="430.23" y="431.74" width="47.37" height="5.06" fill="#320000"/>
<rect x="476.60" y="431.74" width="47.37" height="5.06" fill="#006300"/>
<rect x="522.97" y="431.74" width="47.37" height="5.06" fill="#007800"/>
<rect x="569.33" y="431.74" width="46.37" height="5.06" fill="#007800"/>
<rect x="337.50" y="435.80" width="47.37" height="5.06" fill="#640000"/>
<rect x="383.87" y="435.80" width="47.37" height="5.06" fill="#960000"/>
<rect x="430.23" y="435.80" width="47.37" height="5.06" fill="#820000"/>
<rect x="476.60" y="435.80" width="47.37" height="5.06" fill="#006800"/>
<rect x="522.97" y="435.80" width="47.37" height="5.06" fill="#007800"/>
<rect x="569.33" y="435.80" width="46.37" height="5.06" fill="#007800"/>
<rect x="337.50" y="439.86" width="47.37" height="5.06" fill="#5f0000"/>
<rect x="383.87" y="439.86" width="47.37" height="5.06" fill="#410000"/>
<rect x="430.23" y="439.86" width="47.37" height="5.06" fill="#c80000"/>
<rect x="476.60" y="439.86" width="47.37" height="5.06" fill="#005a00"/>
<rect x="522.97" y="439.86" width="47.37" height="5.06" fill="#007800"/>
<rect x="569.33" y="439.86" width="46.37" height="5.06" fill="#006d00"/>
<rect x="337.50" y="443.91" width="47.37" height="5.06" fill="#8c0000"/>
<rect x="383.87" y="443.91" width="47.37" height="5.06" fill="#a50000"/>
<rect x="430.23" y="443.91" width="47.37" height="5.06" fill="#320000"/>
<rect x="476.60" y="443.91" width="47.37" height="5.06" fill="#007d00"/>
<rect x="522.97" y="443.91" width="47.37" height="5.06" fill="#006d00"/>
<rect x="569.33" y="443.91" width="46.37" height="5.06" fill="#006d00"/>
<rect x="337.50" y="447.97" width="47.37" height="5.06" fill="#780000"/>
<rect x="383.87" y="447.97" width="47.37" height="5.06" fill="#6e0000"/>
<rect x="430.23" y="447.97" width="47.37" height="5.06" fill="#a00000"/>
<rect x="476.60" y="447.97" width="47.37" height="5.06" fill="#007d00"/>
<rect x="522.97" y="447.97" width="47.37" height="5.06" fill="#007800"/>
<rect x="569.33" y="447.97" width="46.37" height="5.06" fill="#006d00"/>
<rect x="337.50" y="452.03" width="47.37" height="5.06" fill="#320000"/>
<rect x="383.87" y="452.03" width="47.37" height="5.06" fill="#5f0000"/>
<rect x="430.23" y="452.03" width="47.37" height="5.06" fill="#d70000"/>
<rect x="476.60" y="452.03" width="47.37" height="5.06" fill="#007f00"/>
<rect x="522.97" y="452.03" width="47.37" height="5.06" fill="#005a00"/>
<rect x="569.33" y="452.03" width="46.37" height="5.06" fill="#006d00"/>
<rect x="337.50" y="456.09" width="47.37" height="5.06" fill="#6e0000"/>
<rect x="383.87" y="456.09" width="47.37" height="5.06" fill="#960000"/>
<rect x="430.23" y="456.09" width="47.37" height="5.06" fill="#780000"/>
<rect x="476.60" y="456.09" width="47.37" height="5.06" fill="#007f00"/>
<rect x="522.97" y="456.09" width="47.37" height="5.06" fill="#008700"/>
<rect x="569.33" y="456.09" width="46.37" height="5.06" fill="#008200"/>
<rect x="337.50" y="460.14" width="47.37" height="5.06" fill="#007800"/>
<rect x="383.87" y="460.14" width="47.37" height="5.06" fill="#007800"/>
<rect x="430.23" y="460.14" width="47.37" height="5.06" fill="#007200"/>
<rect x="476.60" y="460.14" width="47.37" height="5.06" fill="#c80000"/>
<rect x="522.97" y="460.14" width="47.37" height="5.06" fill="#500000"/>
<rect x="569.33" y="460.14" width="46.37" height="5.06" fill="#640000"/>
<rect x="337.50" y="464.20" width="47.37" height="5.06" fill="#006d00"/>
<rect x="383.87" y="464.20" width="47.37" height="5.06" fill="#006800"/>
<rect x="430.23" y="464.20" width="47.37" height="5.06" fill="#007200"/>
<rect x="476.60" y="464.20" width="47.37" height="5.06" fill="#780000"/>
<rect x="522.97" y="464.20" width="47.37" height="5.06" fill="#520000"/>
<rect x="569.33" y="464.20" width="46.37" height="5.06" fill="#960000"/>
<rect x="337.50" y="468.26" width="47.37" height="5.06" fill="#007200"/>
<rect x="383.87" y="468.26" width="47.37" height="5.06" fill="#007d00"/>
<rect x="430.23" y="468.26" width="47.37" height="5.06" fill="#007200"/>
<rect x="476.60" y="468.26" width="47.37" height="5.06" fill="#c80000"/>
<rect x="522.97" y="468.26" width="47.37" height="5.06" fill="#4e0000"/>
<rect x="569.33" y="468.26" width="46.37" height="5.06" fill="#5a0000"/>
<rect x="337.50" y="472.31" width="47.37" height="5.06" fill="#008200"/>
<rect x="383.87" y="472.31" width="47.37" height="5.06" fill="#006300"/>
<rect x="430.23" y="472.31" width="47.37" height="5.06" fill="#006d00"/>
<rect x="476.60" y="472.31" width="47.37" height="5.06" fill="#640000"/>
<rect x="522.97" y="472.31" width="47.37" height="5.06" fill="#aa0000"/>
<rect x="569.33" y="472.31" width="46.37" height="5.06" fill="#5a0000"/>
<rect x="337.50" y="476.37" width="47.37" height="5.06" fill="#008200"/>
<rect x="383.87" y="476.37" width="47.37" height="5.06" fill="#007d00"/>
<rect x="430.23" y="476.37" width="47.37" height="5.06" fill="#006300"/>
<rect x="476.60" y="476.37" width="47.37" height="5.06" fill="#be0000"/>
<rect x="522.97" y="476.37" width="47.37" height="5.06" fill="#6e0000"/>
<rect x="569.33" y="476.37" width="46.37" height="5.06" fill="#5f0000"/>
<rect x="337.50" y="480.43" width="47.37" height="5.06" fill="#006800"/>
<rect x="383.87" y="480.43" width="47.37" height="5.06" fill="#007d00"/>
<rect x="430.23" y="480.43" width="47.37" height="5.06" fill="#006d00"/>
<rect x="476.60" y="480.43" width="47.37" height="5.06" fill="#b40000"/>
<rect x="522.97" y="480.43" width="47.37" height="5.06" fill="#3c0000"/>
<rect x="569.33" y="480.43" width="46.37" height="5.06" fill="#6e0000"/>
<rect x="337.50" y="484.49" width="47.37" height="5.06" fill="#007d00"/>
<rect x="383.87" y="484.49" width="47.37" height="5.06" fill="#007d00"/>
<rect x="430.23" y="484.49" width="47.37" height="5.06" fill="#007800"/>
<rect x="476.60" y="484.49" width="47.37" height="5.06" fill="#730000"/>
<rect x="522.97" y="484.49" width="47.37" height="5.06" fill="#8c0000"/>
<rect x="569.33" y="484.49" width="46.37" height="5.06" fill="#820000"/>
<rect x="337.50" y="488.54" width="47.37" height="5.06" fill="#007d00"/>
<rect x="383.87" y="488.54" width="47.37" height="5.06" fill="#007d00"/>
<rect x="430.23" y="488.54" width="47.37" height="5.06" fill="#007800"/>
<rect x="476.60" y="488.54" width="47.37" height="5.06" fill="#c80000"/>
<rect x="522.97" y="488.54" width="47.37" height="5.06" fill="#780000"/>
<rect x="569.33" y="488.54" width="46.37" height="5.06" fill="#780000"/>
<rect x="337.50" y="492.60" width="47.37" height="5.06" fill="#006300"/>
<rect x="383.87" y="492.60" width="47.37" height="5.06" fill="#007200"/>
<rect x="430.23" y="492.60" width="47.37" height="5.06" fill="#007800"/>
<rect x="476.60" y="492.60" width="47.37" height="5.06" fill="#eb0000"/>
<rect x="522.97" y="492.60" width="47.37" height="5.06" fill="#1e0000"/>
<rect x="569.33" y="492.60" width="46.37" height="5.06" fill="#4b0000"/>
<rect x="337.50" y="496.66" width="47.37" height="5.06" fill="#008200"/>
<rect x="383.87" y="496.66" width="47.37" height="5.06" fill="#007200"/>
<rect x="430.23" y="496.66" width="47.37" height="5.06" fill="#008200"/>
<rect x="476.60" y="496.66" width="47.37" height="5.06" fill="#dc0000"/>
<rect x="522.97" y="496.66" width="47.37" height="5.06" fill="#640000"/>
<rect x="569.33" y="496.66" width="46.37" height="5.06" fill="#370000"/>
<rect x="337.50" y="500.71" width="47.37" height="5.06" fill="#008200"/>
<rect x="383.87" y="500.71" width="47.37" height="5.06" fill="#007200"/>
<rect x="430.23" y="500.71" width="47.37" height="5.06" fill="#007200"/>
<rect x="476.60" y="500.71" width="47.37" height="5.06" fill="#be0000"/>
<rect x="522.97" y="500.71" width="47.37" height="5.06" fill="#640000"/>
<rect x="569.33" y="500.71" width="46.37" height="5.06" fill="#6e0000"/>
<rect x="337.50" y="504.77" width="47.37" height="5.06" fill="#006d00"/>
<rect x="383.87" y="504.77" width="47.37" height="5.06" fill="#007200"/>
<rect x="430.23" y="504.77" width="47.37" height="5.06" fill="#007200"/>
<rect x="476.60" y="504.77" width="47.37" height="5.06" fill="#d20000"/>
<rect x="522.97" y="504.77" width="47.37" height="5.06" fill="#640000"/>
<rect x="569.33" y="504.77" width="46.37" height="5.06" fill="#260000"/>
<rect x="337.50" y="508.83" width="47.37" height="5.06" fill="#006d00"/>
<rect x="383.87" y="508.83" width="47.37" height="5.06" fill="#007800"/>
<rect x="430.23" y="508.83" width="47.37" height="5.06" fill="#008c00"/>
<rect x="476.60" y="508.83" width="47.37" height="5.06" fill="#960000"/>
<rect x="522.97" y="508.83" width="47.37" height="5.06" fill="#6e0000"/>
<rect x="569.33" y="508.83" width="46.37" height="5.06" fill="#6e0000"/>
<rect x="337.50" y="512.89" width="47.37" height="5.06" fill="#006d00"/>
<rect x="383.87" y="512.89" width="47.37" height="5.06" fill="#006d00"/>
<rect x="430.23" y="512.89" width="47.37" height="5.06" fill="#007d00"/>
<rect x="476.60" y="512.89" width="47.37" height="5.06" fill="#aa0000"/>
<rect x="522.97" y="512.89" width="47.37" height="5.06" fill="#5f0000"/>
<rect x="569.33" y="512.89" width="46.37" height="5.06" fill="#780000"/>
<rect x="337.50" y="516.94" width="47.37" height="5.06" fill="#008200"/>
<rect x="383.87" y="516.94" width="47.37" height="5.06" fill="#006000"/>
<rect x="430.23" y="516.94" width="47.37" height="5.06" fill="#008700"/>
<rect x="476.60" y="516.94" width="47.37" height="5.06" fill="#aa0000"/>
<rect x="522.97" y="516.94" width="47.37" height="5.06" fill="#640000"/>
<rect x="569.33" y="516.94" width="46.37" height="5.06" fill="#7d0000"/>
<rect x="337.50" y="521.00" width="47.37" height="5.06" fill="#008200"/>
<rect x="383.87" y="521.00" width="47.37" height="5.06" fill="#007800"/>
<rect x="430.23" y="521.00" width="47.37" height="5.06" fill="#007200"/>
<rect x="476.60" y="521.00" width="47.37" height="5.06" fill="#a50000"/>
<rect x="522.97" y="521.00" width="47.37" height="5.06" fill="#690000"/>
<rect x="569.33" y="521.00" width="46.37" height="5.06" fill="#760000"/>
<rect x="337.50" y="525.06" width="47.37" height="5.06" fill="#008200"/>
<rect x="383.87" y="525.06" width="47.37" height="5.06" fill="#004800"/>
<rect x="430.23" y="525.06" width="47.37" height="5.06" fill="#006800"/>
<rect x="476.60" y="525.06" width="47.37" height="5.06" fill="#e60000"/>
<rect x="522.97" y="525.06" width="47.37" height="5.06" fill="#3c0000"/>
<rect x="569.33" y="525.06" width="46.37" height="5.06" fill="#370000"/>
<rect x="337.50" y="529.11" width="47.37" height="5.06" fill="#008200"/>
<rect x="383.87" y="529.11" width="47.37" height="5.06" fill="#006300"/>
<rect x="430.23" y="529.11" width="47.37" height="5.06" fill="#005a00"/>
<rect x="476.60" y="529.11" width="47.37" height="5.06" fill="#eb0000"/>
<rect x="522.97" y="529.11" width="47.37" height="5.06" fill="#0a0000"/>
<rect x="569.33" y="529.11" width="46.37" height="5.06" fill="#5c0000"/>
<rect x="337.50" y="533.17" width="47.37" height="5.06" fill="#008200"/>
<rect x="383.87" y="533.17" width="47.37" height="5.06" fill="#007200"/>
<rect x="430.23" y="533.17" width="47.37" height="5.06" fill="#007200"/>
<rect x="476.60" y="533.17" width="47.37" height="5.06" fill="#be0000"/>
<rect x="522.97" y="533.17" width="47.37" height="5.06" fill="#6e0000"/>
<rect x="569.33" y="533.17" width="46.37" height="5.06" fill="#600000"/>
<rect x="337.50" y="537.23" width="47.37" height="5.06" fill="#005000"/>
<rect x="383.87" y="537.23" width="47.37" height="5.06" fill="#005000"/>
<rect x="430.23" y="537.23" width="47.37" height="5.06" fill="#003200"/>
<rect x="476.60" y="537.23" width="47.37" height="5.06" fill="#ff0000"/>
<rect x="522.97" y="537.23" width="47.37" height="5.06" fill="#005000"/>
<rect x="569.33" y="537.23" width="46.37" height="5.06" fill="#000000"/>
<rect x="337.50" y="541.29" width="47.37" height="5.06" fill="#007200"/>
<rect x="383.87" y="541.29" width="47.37" height="5.06" fill="#007200"/>
<rect x="430.23" y="541.29" width="47.37" height="5.06" fill="#006d00"/>
<rect x="476.60" y="541.29" width="47.37" height="5.06" fill="#820000"/>
<rect x="522.97" y="541.29" width="47.37" height="5.06" fill="#320000"/>
<rect x="569.33" y="541.29" width="46.37" height="5.06" fill="#c80000"/>
<rect x="337.50" y="545.34" width="47.37" height="5.06" fill="#005500"/>
<rect x="383.87" y="545.34" width="47.37" height="5.06" fill="#005500"/>
<rect x="430.23" y="545.34" width="47.37" height="5.06" fill="#005500"/>
<rect x="476.60" y="545.34" width="47.37" height="5.06" fill="#003c00"/>
<rect x="522.97" y="545.34" width="47.37" height="5.06" fill="#280000"/>
<rect x="569.33" y="545.34" width="46.37" height="5.06" fill="#fa0000"/>
<rect x="337.50" y="549.40" width="47.37" height="5.06" fill="#007800"/>
<rect x="383.87" y="549.40" width="47.37" height="5.06" fill="#006d00"/>
<rect x="430.23" y="549.40" width="47.37" height="5.06" fill="#007200"/>
<rect x="476.60" y="549.40" width="47.37" height="5.06" fill="#8c0000"/>
<rect x="522.97" y="549.40" width="47.37" height="5.06" fill="#320000"/>
<rect x="569.33" y="549.40" width="46.37" height="5.06" fill="#c80000"/>
<rect x="337.50" y="553.46" width="47.37" height="5.06" fill="#007800"/>
<rect x="383.87" y="553.46" width="47.37" height="5.06" fill="#007800"/>
<rect x="430.23" y="553.46" width="47.37" height="5.06" fill="#007200"/>
<rect x="476.60" y="553.46" width="47.37" height="5.06" fill="#820000"/>
<rect x="522.97" y="553.46" width="47.37" height="5.06" fill="#820000"/>
<rect x="569.33" y="553.46" width="46.37" height="5.06" fill="#8c0000"/>
<rect x="337.50" y="557.51" width="47.37" height="5.06" fill="#007800"/>
<rect x="383.87" y="557.51" width="47.37" height="5.06" fill="#007800"/>
<rect x="430.23" y="557.51" width="47.37" height="5.06" fill="#007200"/>
<rect x="476.60" y="557.51" width="47.37" height="5.06" fill="#aa0000"/>
<rect x="522.97" y="557.51" width="47.37" height="5.06" fill="#460000"/>
<rect x="569.33" y="557.51" width="46.37" height="5.06" fill="#be0000"/>
<rect x="337.50" y="561.57" width="47.37" height="5.06" fill="#005500"/>
<rect x="383.87" y="561.57" width="47.37" height="5.06" fill="#005000"/>
<rect x="430.23" y="561.57" width="47.37" height="5.06" fill="#005500"/>
<rect x="476.60" y="561.57" width="47.37" height="5.06" fill="#fa0000"/>
<rect x="522.97" y="561.57" width="47.37" height="5.06" fill="#003c00"/>
<rect x="569.33" y="561.57" width="46.37" height="5.06" fill="#320000"/>
<rect x="337.50" y="565.63" width="47.37" height="5.06" fill="#007d00"/>
<rect x="383.87" y="565.63" width="47.37" height="5.06" fill="#007800"/>
<rect x="430.23" y="565.63" width="47.37" height="5.06" fill="#007800"/>
<rect x="476.60" y="565.63" width="47.37" height="5.06" fill="#820000"/>
<rect x="522.97" y="565.63" width="47.37" height="5.06" fill="#460000"/>
<rect x="569.33" y="565.63" width="46.37" height="5.06" fill="#aa0000"/>
<rect x="337.50" y="569.69" width="47.37" height="5.06" fill="#007d00"/>
<rect x="383.87" y="569.69" width="47.37" height="5.06" fill="#007800"/>
<rect x="430.23" y="569.69" width="47.37" height="5.06" fill="#007800"/>
<rect x="476.60" y="569.69" width="47.37" height="5.06" fill="#b40000"/>
<rect x="522.97" y="569.69" width="47.37" height="5.06" fill="#320000"/>
<rect x="569.33" y="569.69" width="46.37" height="5.06" fill="#6e0000"/>
<rect x="337.50" y="573.74" width="47.37" height="4.06" fill="#007d00"/>
<rect x="383.87" y="573.74" width="47.37" height="4.06" fill="#007800"/>
<rect x="430.23" y="573.74" width="47.37" height="4.06" fill="#007800"/>
<rect x="476.60" y="573.74" width="47.37" height="4.06" fill="#b40000"/>
<rect x="522.97" y="573.74" width="47.37" height="4.06" fill="#002300"/>
<rect x="569.33" y="573.74" width="46.37" height="4.06" fill="#8c0000"/>
<text transform="translate(621.90 325.92) scale(1.000 1)" font-size="4.70" stroke="#000" stroke-width="0.20">dre−miR−430c</text>
<text transform="translate(621.90 329.98) scale(1.000 1)" font-size="4.70" stroke="#000" stroke-width="0.20">dre−miR−430b</text>
<text transform="translate(621.90 334.03) scale(1.000 1)" font-size="4.70" stroke="#000" stroke-width="0.20">dre−miR−430a</text>
<text transform="translate(621.90 338.09) scale(1.000 1)" font-size="4.70" stroke="#000" stroke-width="0.20">dre−miR−130a</text>
<text transform="translate(621.90 342.15) scale(1.000 1)" font-size="4.70" stroke="#000" stroke-width="0.20">dre−miR−20a</text>
<text transform="translate(621.90 346.21) scale(1.000 1)" font-size="4.70" stroke="#000" stroke-width="0.20">dre−miR−122</text>
<text transform="translate(621.90 350.26) scale(1.000 1)" font-size="4.70" stroke="#000" stroke-width="0.20">dre−miR−206</text>
<text transform="translate(621.90 354.32) scale(1.000 1)" font-size="4.70" stroke="#000" stroke-width="0.20">dre−miR−205</text>
<text transform="translate(621.90 358.38) scale(1.000 1)" font-size="4.70" stroke="#000" stroke-width="0.20">dre−miR−19d</text>
<text transform="translate(621.90 362.43) scale(1.000 1)" font-size="4.70" stroke="#000" stroke-width="0.20">dre−miR−19c</text>
<text transform="translate(621.90 366.49) scale(1.000 1)" font-size="4.70" stroke="#000" stroke-width="0.20">dre−miR−18a</text>
<text transform="translate(621.90 370.55) scale(1.000 1)" font-size="4.70" stroke="#000" stroke-width="0.20">dre−miR−16b</text>
<text transform="translate(621.90 374.61) scale(1.000 1)" font-size="4.70" stroke="#000" stroke-width="0.20">dre−miR−20a−3p</text>
<text transform="translate(621.90 378.66) scale(1.000 1)" font-size="4.70" stroke="#000" stroke-width="0.20">dre−miR−27c−5p</text>
<text transform="translate(621.90 382.72) scale(1.000 1)" font-size="4.70" stroke="#000" stroke-width="0.20">dre−miR−130c</text>
<text transform="translate(621.90 386.78) scale(1.000 1)" font-size="4.70" stroke="#000" stroke-width="0.20">dre−miR−19b−3p</text>
<text transform="translate(621.90 390.83) scale(1.000 1)" font-size="4.70" stroke="#000" stroke-width="0.20">dre−miR−92b−3p</text>
<text transform="translate(621.90 394.89) scale(1.000 1)" font-size="4.70" stroke="#000" stroke-width="0.20">dre−miR−738</text>
<text transform="translate(621.90 398.95) scale(1.000 1)" font-size="4.70" stroke="#000" stroke-width="0.20">dre−miR−133a</text>
<text transform="translate(621.90 403.01) scale(1.000 1)" font-size="4.70" stroke="#000" stroke-width="0.20">dre−miR−184</text>
<text transform="translate(621.90 407.06) scale(1.000 1)" font-size="4.70" stroke="#000" stroke-width="0.20">dre−miR−202a</text>
<text transform="translate(621.90 411.12) scale(1.000 1)" font-size="4.70" stroke="#000" stroke-width="0.20">dre−miR−16a</text>
<text transform="translate(621.90 415.18) scale(1.000 1)" font-size="4.70" stroke="#000" stroke-width="0.20">dre−miR−2190−5p</text>
<text transform="translate(621.90 419.23) scale(1.000 1)" font-size="4.70" stroke="#000" stroke-width="0.20">dre−miR−19b</text>
<text transform="translate(621.90 423.29) scale(1.000 1)" font-size="4.70" stroke="#000" stroke-width="0.20">dre−miR−990−5p</text>
<text transform="translate(621.90 427.35) scale(1.000 1)" font-size="4.70" stroke="#000" stroke-width="0.20">dre−miR−1306−3p</text>
<text transform="translate(621.90 431.41) scale(1.000 1)" font-size="4.70" stroke="#000" stroke-width="0.20">dre−miR−2189−5p</text>
<text transform="translate(621.90 435.46) scale(1.000 1)" font-size="4.70" stroke="#000" stroke-width="0.20">dre−miR−19a−3p</text>
<text transform="translate(621.90 439.52) scale(1.000 1)" font-size="4.70" stroke="#000" stroke-width="0.20">dre−miR−130b−3p</text>
<text transform="translate(621.90 443.58) scale(1.000 1)" font-size="4.70" stroke="#000" stroke-width="0.20">dre−miR−24a</text>
<text transform="translate(621.90 447.63) scale(1.000 1)" font-size="4.70" stroke="#000" stroke-width="0.20">dre−miR−19a−5p</text>
<text transform="translate(621.90 451.69) scale(1.000 1)" font-size="4.70" stroke="#000" stroke-width="0.20">dre−miR−17a</text>
<text transform="translate(621.90 455.75) scale(1.000 1)" font-size="4.70" stroke="#000" stroke-width="0.20">dre−miR−146a</text>
<text transform="translate(621.90 459.81) scale(1.000 1)" font-size="4.70" stroke="#000" stroke-width="0.20">dre−miR−27c−3p</text>
<text transform="translate(621.90 463.86) scale(1.000 1)" font-size="4.70" stroke="#000" stroke-width="0.20">dre−let−7c</text>
<text transform="translate(621.90 467.92) scale(1.000 1)" font-size="4.70" stroke="#000" stroke-width="0.20">dre−miR−10b</text>
<text transform="translate(621.90 471.98) scale(1.000 1)" font-size="4.70" stroke="#000" stroke-width="0.20">dre−let−7i</text>
<text transform="translate(621.90 476.03) scale(1.000 1)" font-size="4.70" stroke="#000" stroke-width="0.20">dre−miR−125b</text>
<text transform="translate(621.90 480.09) scale(1.000 1)" font-size="4.70" stroke="#000" stroke-width="0.20">dre−miR−462</text>
<text transform="translate(621.90 484.15) scale(1.000 1)" font-size="4.70" stroke="#000" stroke-width="0.20">dre−miR−489</text>
<text transform="translate(621.90 488.21) scale(1.000 1)" font-size="4.70" stroke="#000" stroke-width="0.20">dre−let−7j</text>
<text transform="translate(621.90 492.26) scale(1.000 1)" font-size="4.70" stroke="#000" stroke-width="0.20">dre−let−7a</text>
<text transform="translate(621.90 496.32) scale(1.000 1)" font-size="4.70" stroke="#000" stroke-width="0.20">dre−miR−460−3p</text>
<text transform="translate(621.90 500.38) scale(1.000 1)" font-size="4.70" stroke="#000" stroke-width="0.20">dre−miR−150</text>
<text transform="translate(621.90 504.43) scale(1.000 1)" font-size="4.70" stroke="#000" stroke-width="0.20">dre−miR−125a</text>
<text transform="translate(621.90 508.49) scale(1.000 1)" font-size="4.70" stroke="#000" stroke-width="0.20">dre−miR−99</text>
<text transform="translate(621.90 512.55) scale(1.000 1)" font-size="4.70" stroke="#000" stroke-width="0.20">dre−miR−7a</text>
<text transform="translate(621.90 516.61) scale(1.000 1)" font-size="4.70" stroke="#000" stroke-width="0.20">dre−miR−425</text>
<text transform="translate(621.90 520.66) scale(1.000 1)" font-size="4.70" stroke="#000" stroke-width="0.20">dre−miR−103a</text>
<text transform="translate(621.90 524.72) scale(1.000 1)" font-size="4.70" stroke="#000" stroke-width="0.20">dre−let−7f</text>
<text transform="translate(621.90 528.78) scale(1.000 1)" font-size="4.70" stroke="#000" stroke-width="0.20">dre−miR−2187−5p</text>
<text transform="translate(621.90 532.83) scale(1.000 1)" font-size="4.70" stroke="#000" stroke-width="0.20">dre−miR−735</text>
<text transform="translate(621.90 536.89) scale(1.000 1)" font-size="4.70" stroke="#000" stroke-width="0.20">dre−let−7e</text>
<text transform="translate(621.90 540.95) scale(1.000 1)" font-size="4.70" stroke="#000" stroke-width="0.20">dre−miR−212</text>
<text transform="translate(621.90 545.01) scale(1.000 1)" font-size="4.70" stroke="#000" stroke-width="0.20">dre−miR−196b</text>
<text transform="translate(621.90 549.06) scale(1.000 1)" font-size="4.70" stroke="#000" stroke-width="0.20">dre−miR−2189</text>
<text transform="translate(621.90 553.12) scale(1.000 1)" font-size="4.70" stroke="#000" stroke-width="0.20">dre−miR−199b</text>
<text transform="translate(621.90 557.18) scale(1.000 1)" font-size="4.70" stroke="#000" stroke-width="0.20">dre−miR−499</text>
<text transform="translate(621.90 561.23) scale(1.000 1)" font-size="4.70" stroke="#000" stroke-width="0.20">dre−miR−196c</text>
<text transform="translate(621.90 565.29) scale(1.000 1)" font-size="4.70" stroke="#000" stroke-width="0.20">dre−miR−132−3p</text>
<text transform="translate(621.90 569.35) scale(1.000 1)" font-size="4.70" stroke="#000" stroke-width="0.20">dre−miR−196d</text>
<text transform="translate(621.90 573.41) scale(1.000 1)" font-size="4.70" stroke="#000" stroke-width="0.20">dre−miR−725−3p</text>
<text transform="translate(621.90 577.46) scale(1.000 1)" font-size="4.70" stroke="#000" stroke-width="0.20">dre−miR−132−5p</text>
<text transform="translate(360.98 586.60) rotate(-90) scale(0.900 1)" text-anchor="end" font-size="10.20" stroke="#000" stroke-width="0.20">Ovary1</text>
<text transform="translate(407.35 586.60) rotate(-90) scale(0.900 1)" text-anchor="end" font-size="10.20" stroke="#000" stroke-width="0.20">Ovary2</text>
<text transform="translate(453.72 586.60) rotate(-90) scale(0.900 1)" text-anchor="end" font-size="10.20" stroke="#000" stroke-width="0.20">Ovary3</text>
<text transform="translate(500.08 586.60) rotate(-90) scale(0.900 1)" text-anchor="end" font-size="10.20" stroke="#000" stroke-width="0.20">Testis1</text>
<text transform="translate(546.45 586.60) rotate(-90) scale(0.900 1)" text-anchor="end" font-size="10.20" stroke="#000" stroke-width="0.20">Testis2</text>
<text transform="translate(592.82 586.60) rotate(-90) scale(0.900 1)" text-anchor="end" font-size="10.20" stroke="#000" stroke-width="0.20">Testis3</text>
<text x="10.3" y="11.4" font-size="15.2">A</text>
<text x="319.7" y="11.4" font-size="15.2">B</text>
<text x="10.0" y="307.0" font-size="15.2">C</text>
<text x="349.9" y="306.3" font-size="15.2">D</text>
<rect x="597.3" y="16.9" width="88" height="74.3" fill="url(#key)"/>
<path d="M597.3 91.7H685M617 91.7V94.2M641 91.7V94.2M665 91.7V94.2" stroke="#000" stroke-width="0.8" fill="none"/>
<text x="641" y="13.3" font-size="5.9" font-weight="bold" text-anchor="middle">Color Key</text>
<text x="616.5" y="102.6" font-size="5" text-anchor="middle">−1</text>
<text x="641.0" y="102.6" font-size="5" text-anchor="middle">0</text>
<text x="665.0" y="102.6" font-size="5" text-anchor="middle">1</text>
<text x="641.3" y="112" font-size="6.9" text-anchor="middle">Row Z−Score</text>
</svg>
</body></html>
